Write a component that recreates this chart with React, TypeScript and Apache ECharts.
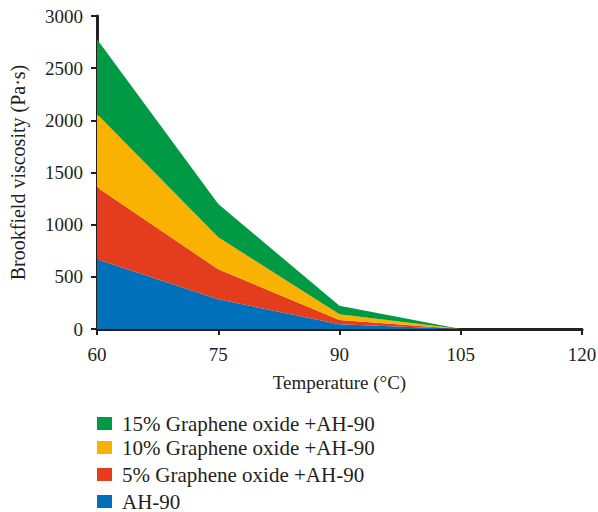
import React, { useEffect, useRef } from "react";
import * as echarts from "echarts";

const temperatures = ["60", "75", "90", "105", "120"];
const ah90 = [668, 285, 45, 0, "-"];
const go5 = [690, 287, 42, 0, "-"];
const go10 = [703, 307, 55, 0, "-"];
const go15 = [716, 319, 80, 0, "-"];
const seriesNames = [
  "AH-90",
  "5% Graphene oxide +AH-90",
  "10% Graphene oxide +AH-90",
  "15% Graphene oxide +AH-90",
];
const seriesValues = [ah90, go5, go10, go15];
const colors = ["#0070BA", "#E43D1E", "#F9B200", "#009A44"];
const legendOrder = [
  "15% Graphene oxide +AH-90",
  "10% Graphene oxide +AH-90",
  "5% Graphene oxide +AH-90",
  "AH-90",
];
const legendTops = [413, 437, 464, 491];

const font = "'Liberation Serif', 'DejaVu Serif', serif";
const ink = "#231f20";

export default function App() {
  const ref = useRef<HTMLDivElement>(null);
  useEffect(() => {
    if (!ref.current) return;
    const chart = echarts.init(ref.current, null, { renderer: "svg" });
    chart.setOption({
      animation: false,
      backgroundColor: "#ffffff",
      textStyle: { fontFamily: font },
      grid: {
        left: 97,
        right: 16,
        top: 16,
        bottom: 183,
        containLabel: false,
        outerBoundsMode: "none",
      },
      legend: legendOrder.map((name, i) => ({
        orient: "vertical",
        left: 97,
        top: legendTops[i],
        padding: 0,
        itemWidth: 15,
        itemHeight: 13,
        icon: "rect",
        selectedMode: false,
        data: [name],
        textStyle: { fontFamily: font, fontSize: 21, color: ink, padding: [0, 0, 0, 5] },
      })),
      xAxis: {
        type: "category",
        boundaryGap: false,
        data: temperatures,
        name: "Temperature (°C)",
        nameLocation: "middle",
        nameGap: 44,
        nameTextStyle: { fontFamily: font, fontSize: 19, color: ink },
        axisLine: { lineStyle: { color: ink, width: 3 } },
        axisTick: { show: true, length: 6, alignWithLabel: true, lineStyle: { color: ink, width: 2 } },
        axisLabel: { fontFamily: font, fontSize: 19, color: ink, margin: 16, showMaxLabel: true },
        splitLine: { show: false },
      },
      yAxis: {
        type: "value",
        min: 0,
        max: 3000,
        interval: 500,
        name: "Brookfield viscosity (Pa·s)",
        nameLocation: "middle",
        nameGap: 69,
        nameRotate: 90,
        nameTextStyle: { fontFamily: font, fontSize: 20, color: ink },
        axisLine: { show: true, lineStyle: { color: ink, width: 3 } },
        axisTick: { show: true, length: 6, lineStyle: { color: ink, width: 2 } },
        axisLabel: {
          fontFamily: font,
          fontSize: 19,
          color: ink,
          margin: 14,
          formatter: (v: number) => String(v),
        },
        splitLine: { show: false },
      },
      series: seriesNames.map((name, i) => ({
        name,
        type: "line",
        stack: "total",
        symbol: "none",
        lineStyle: { width: 0 },
        itemStyle: { color: colors[i] },
        areaStyle: { color: colors[i], opacity: 1 },
        data: seriesValues[i],
        z: 2,
      })),
    });
    return () => chart.dispose();
  }, []);
  return (
    <div
      ref={ref}
      style={{ position: "fixed", left: 0, top: 0, width: 598, height: 512 }}
    />
  );
}
